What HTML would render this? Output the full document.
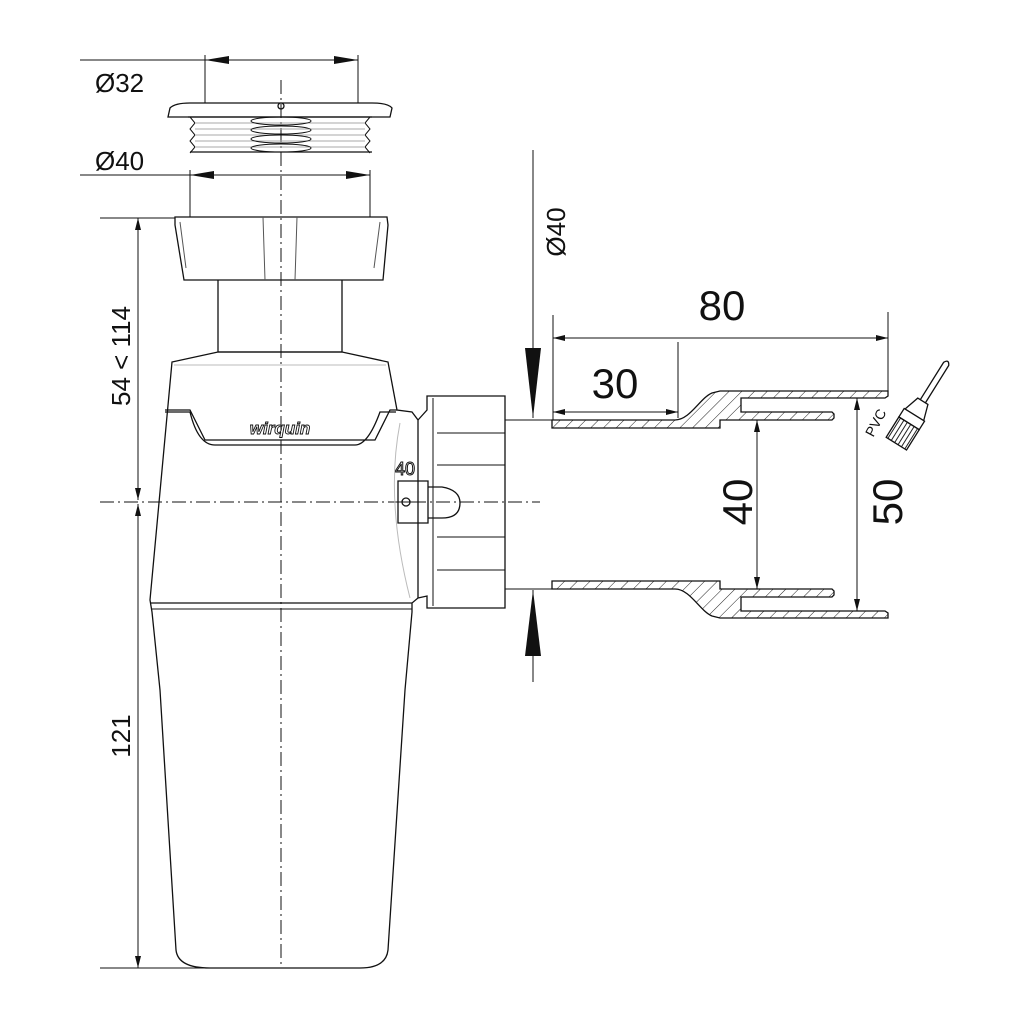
<!DOCTYPE html>
<html><head><style>html,body{margin:0;padding:0;background:#fff}svg{display:block}</style></head>
<body>
<svg width="1024" height="1024" viewBox="0 0 1024 1024" xmlns="http://www.w3.org/2000/svg" font-family="Liberation Sans, DejaVu Sans, sans-serif">
<defs>
<pattern id="h" width="9" height="9" patternUnits="userSpaceOnUse" patternTransform="rotate(45)">
<line x1="0" y1="0" x2="0" y2="9" stroke="#222" stroke-width="1"/></pattern>
<pattern id="h2" width="4" height="4" patternUnits="userSpaceOnUse">
<line x1="2" y1="0" x2="2" y2="4" stroke="#222" stroke-width="1"/></pattern>
<marker id="a" viewBox="0 0 12 6" refX="12" refY="3" markerWidth="12" markerHeight="6" orient="auto-start-reverse" markerUnits="userSpaceOnUse"><path d="M0,0 L12,3 L0,6 Z" fill="#111"/></marker>
<marker id="b" viewBox="0 0 24 8" refX="24" refY="4" markerWidth="24" markerHeight="8" orient="auto-start-reverse" markerUnits="userSpaceOnUse"><path d="M0,0 L24,4 L0,8 Z" fill="#111"/></marker>
</defs>
<g fill="none" stroke="#111" stroke-width="1.3">
<line x1="281" y1="80" x2="281" y2="965" stroke-dasharray="14,4,2,4" stroke-width="1"/>
<line x1="100" y1="502" x2="540" y2="502" stroke-dasharray="14,4,2,4" stroke-width="1"/>
<line x1="80" y1="60" x2="358" y2="60" stroke-width="1"/>
<line x1="205" y1="60" x2="358" y2="60" marker-start="url(#b)" marker-end="url(#b)" stroke-width="1"/>
<line x1="205" y1="55" x2="205" y2="103" stroke-width="1"/>
<line x1="358" y1="55" x2="358" y2="103" stroke-width="1"/>
<line x1="80" y1="175" x2="370" y2="175" stroke-width="1"/>
<line x1="190" y1="175" x2="370" y2="175" marker-start="url(#b)" marker-end="url(#b)" stroke-width="1"/>
<line x1="190" y1="170" x2="190" y2="217" stroke-width="1"/>
<line x1="370" y1="170" x2="370" y2="217" stroke-width="1"/>
<path d="M168,117 L170,108 Q175,103 190,103 L372,103 Q388,103 392,108 L390,117 Z"/>
<circle cx="281" cy="106" r="3"/>
<path d="M188,117 L372,117 M190,152 L372,152"/>
<path d="M190,117 l5,6 -5,6 5,6 -5,6 5,6 -5,6 M370,117 l-5,6 5,6 -5,6 5,6 -5,6 5,6" stroke-width="1"/>
<g stroke="#aaa" stroke-width="1"><line x1="195" y1="123" x2="365" y2="123"/><line x1="195" y1="129" x2="365" y2="129"/><line x1="195" y1="135" x2="365" y2="135"/><line x1="195" y1="141" x2="365" y2="141"/><line x1="195" y1="147" x2="365" y2="147"/></g>
<g stroke-width="1"><ellipse cx="281" cy="121" rx="30" ry="4"/><ellipse cx="281" cy="130" rx="30" ry="4"/><ellipse cx="281" cy="139" rx="30" ry="4"/><ellipse cx="281" cy="148" rx="30" ry="4"/></g>
<path d="M175,217 L387,217 L388,225 L383,280 L184,280 L175,225 Z"/>
<path d="M263,217 L265,280 M297,217 L295,280 M180,222 L186,268 M380,222 L374,268" stroke-width="1" stroke="#555"/>
<path d="M218,280 L218,352 M342,280 L342,352 M218,352 L342,352"/>
<path d="M218,352 L342,352 L388,362 L397,410 L412,412 L418,420 L418,598 L412,603 L412,612 L405,690 L388,950 Q386,968 360,968 L210,968 Q178,968 176,950 L160,690 L152,612 L150,600 L172,362 Z"/>
<line x1="150" y1="603" x2="412" y2="603"/>
<line x1="151" y1="609" x2="412" y2="609" stroke-width="1"/>
<line x1="174" y1="365" x2="386" y2="365" stroke="#bbb" stroke-width="1"/>
<path d="M165,410 L190,410 L205,440 L375,440 L390,410 L397,410 M165,412 L190,412 Q198,445 215,445 L355,445 Q368,445 380,412 L396,412"/>
<text x="280" y="434" font-size="17" font-style="italic" font-weight="bold" text-anchor="middle" fill="#fff" stroke="#111" stroke-width="0.9">wirquin</text>
<text x="405" y="475" font-size="18" text-anchor="middle" fill="#fff" stroke="#111" stroke-width="1">40</text>
<path d="M398,481 L428,481 L428,523 L398,523 Z"/>
<path d="M428,487 L442,487 Q460,490 460,503 Q460,518 442,518 L428,518" />
<circle cx="406" cy="502" r="4"/>
<path d="M400,502 L414,502" stroke-width="1"/>
<path d="M400,423 Q385,500 410,598" stroke="#bbb" stroke-width="1"/>
<path d="M418,420 L427,410 L427,396 L505,396 L505,608 L427,608 L427,596 L418,598" />
<line x1="433" y1="398" x2="433" y2="606" stroke-width="1"/>
<g stroke-width="1"><line x1="437" y1="433" x2="505" y2="433"/><line x1="437" y1="465" x2="505" y2="465"/><line x1="437" y1="537" x2="505" y2="537"/><line x1="437" y1="570" x2="505" y2="570"/></g>
<line x1="100" y1="218" x2="175" y2="218" stroke-width="1"/>
<line x1="100" y1="968" x2="215" y2="968" stroke-width="1"/>
<line x1="138" y1="218" x2="138" y2="500" marker-start="url(#a)" marker-end="url(#a)" stroke-width="1"/>
<line x1="138" y1="504" x2="138" y2="968" marker-start="url(#a)" marker-end="url(#a)" stroke-width="1"/>
<line x1="533" y1="150" x2="533" y2="418" stroke-width="1"/>
<line x1="533" y1="590" x2="533" y2="682" stroke-width="1"/>
<path d="M525,348 L541,348 L533,418 Z" fill="#111" stroke="none"/>
<path d="M525,656 L541,656 L533,590 Z" fill="#111" stroke="none"/>
<line x1="505" y1="420" x2="552" y2="420" stroke-width="1"/>
<line x1="505" y1="589" x2="552" y2="589" stroke-width="1"/>
<path d="M552,420 L675,420 C690,420 700,398 712,393 L720,391 L888,391 L888,396 L885,398 L741,398 L741,412 L832,412 L834,414 L834,418 L832,420 L720,420 L720,428 L552,428 Z" fill="url(#h)"/>
<path d="M552,589 L675,589 C690,589 700,611 712,616 L720,618 L888,618 L888,613 L885,611 L741,611 L741,597 L832,597 L834,595 L834,591 L832,589 L720,589 L720,581 L552,581 Z" fill="url(#h)"/>
<line x1="553" y1="315" x2="553" y2="420" stroke-width="1"/>
<line x1="888" y1="312" x2="888" y2="391" stroke-width="1"/>
<line x1="678" y1="342" x2="678" y2="418" stroke-width="1"/>
<line x1="553" y1="338" x2="888" y2="338" marker-start="url(#a)" marker-end="url(#a)" stroke-width="1"/>
<line x1="553" y1="412" x2="678" y2="412" marker-start="url(#a)" marker-end="url(#a)" stroke-width="1"/>
<line x1="757" y1="420" x2="757" y2="589" marker-start="url(#a)" marker-end="url(#a)" stroke-width="1"/>
<line x1="857" y1="398" x2="857" y2="611" marker-start="url(#a)" marker-end="url(#a)" stroke-width="1"/>
<g transform="translate(908,425) rotate(32)">
<path d="M-3,-28 L-3,-72 Q0,-78 3,-72 L3,-28"/>
<path d="M-6,-28 L6,-28 L11,-12 L-11,-12 Z" fill="#fff"/>
<rect x="-12" y="-12" width="24" height="10" fill="#fff"/>
<rect x="-12" y="-2" width="24" height="24" fill="url(#h2)"/>
</g>
</g>
<g fill="#111" font-size="26">
<text x="95" y="92">Ø32</text>
<text x="95" y="170">Ø40</text>
<text transform="translate(130,356) rotate(-90)" text-anchor="middle">54 &lt; 114</text>
<text transform="translate(130,736) rotate(-90)" text-anchor="middle">121</text>
<text transform="translate(565,232) rotate(-90)" text-anchor="middle">Ø40</text>
<text x="722" y="320" font-size="42" text-anchor="middle">80</text>
<text x="615" y="398" font-size="42" text-anchor="middle">30</text>
<text transform="translate(752,502) rotate(-90)" font-size="42" text-anchor="middle">40</text>
<text transform="translate(902,502) rotate(-90)" font-size="42" text-anchor="middle">50</text>
<text transform="translate(880,425) rotate(-62)" font-size="14" text-anchor="middle">PVC</text>
</g>
</svg>
</body></html>
